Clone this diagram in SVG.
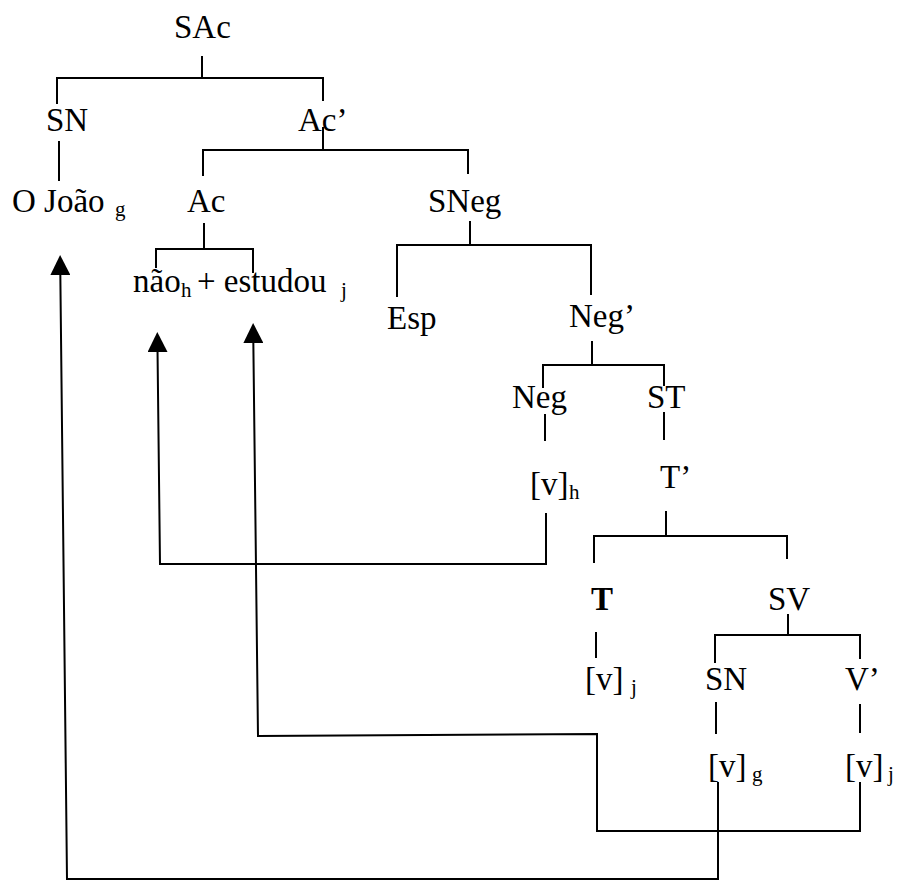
<svg xmlns="http://www.w3.org/2000/svg" width="898" height="882" viewBox="0 0 898 882">
<style>
  text { font-family: "Liberation Serif", "Times New Roman", serif; font-size: 33px; fill: #000; }
  .sub { font-size: 21px; }
  .b { font-weight: bold; }
  .edge { fill: none; stroke: #000; stroke-width: 2; stroke-linecap: square; }
  .move { fill: none; stroke: #000; stroke-width: 2; stroke-linejoin: miter; }
</style>
<defs>
  <marker id="ah" viewBox="0 0 20 20" refX="12" refY="10" markerWidth="20" markerHeight="20" markerUnits="userSpaceOnUse" orient="auto">
    <path d="M0,0 L20,10 L0,20 Z" fill="#000"/>
  </marker>
</defs>
<rect width="898" height="882" fill="#fff"/>

<g id="connectors">
  <g id="tree-edges" class="edge">
    <path d="M202,57 V78 M57,103 V78 H323 V100"/>
    <path d="M59,142 V180"/>
    <path d="M323,128 V150 M203,175 V150 H468 V173"/>
    <path d="M204,224 V249 M156,267 V249 H253 V272"/>
    <path d="M470,222 V245 M397,296 V245 H591 V294"/>
    <path d="M592,342 V365 M543,387 V365 H664 V385"/>
    <path d="M545,415 V440"/>
    <path d="M664,413 V439"/>
    <path d="M666,512 V536 M594,562 V536 H787 V558"/>
    <path d="M596,633 V657"/>
    <path d="M788,615 V635 M715,662 V635 H860 V658"/>
    <path d="M716,703 V733"/>
    <path d="M860,705 V732"/>
  </g>
  <g id="movement" class="move">
    <path d="M546,513 L546,564 L160,564 L157.4,340" marker-end="url(#ah)"/>
    <path d="M860,782 L860,831 L597,831 L597,734 L258,736 L253.2,331" marker-end="url(#ah)"/>
    <path d="M718,782 L718,879 L67,879 L60.2,263" marker-end="url(#ah)"/>
  </g>
</g>

<g id="n-SAc"><text x="174" y="38">SAc</text></g>
<g id="n-SN1"><text x="46" y="131">SN</text></g>
<g id="n-Acbar"><text x="298" y="131">Ac’</text></g>
<g id="n-Joao"><text x="12" y="212">O João<tspan class="sub" x="115" y="216">g</tspan></text></g>
<g id="n-Ac"><text x="187" y="212">Ac</text></g>
<g id="n-SNeg"><text x="428" y="212">SNeg</text></g>
<g id="n-naoestudou"><text x="133" y="292">não<tspan class="sub" x="181" y="297">h</tspan><tspan x="197" y="292">+ estudou</tspan><tspan class="sub" x="341" y="297">j</tspan></text></g>
<g id="n-Esp"><text x="387" y="329">Esp</text></g>
<g id="n-Negbar"><text x="569" y="327">Neg’</text></g>
<g id="n-Neg"><text x="512" y="408">Neg</text></g>
<g id="n-ST"><text x="647" y="408">ST</text></g>
<g id="n-vh"><text x="530" y="495">[v]<tspan class="sub" x="569" y="499">h</tspan></text></g>
<g id="n-Tbar"><text x="660" y="488">T’</text></g>
<g id="n-T"><text class="b" x="591" y="610">T</text></g>
<g id="n-SV"><text x="768" y="610">SV</text></g>
<g id="n-vj1"><text x="585" y="690">[v]<tspan class="sub" x="631" y="694">j</tspan></text></g>
<g id="n-SN2"><text x="705" y="690">SN</text></g>
<g id="n-Vbar"><text x="845" y="690">V’</text></g>
<g id="n-vg"><text x="708" y="777">[v]<tspan class="sub" x="752" y="781">g</tspan></text></g>
<g id="n-vj2"><text x="845" y="777">[v]<tspan class="sub" x="888" y="781">j</tspan></text></g>
</svg>
